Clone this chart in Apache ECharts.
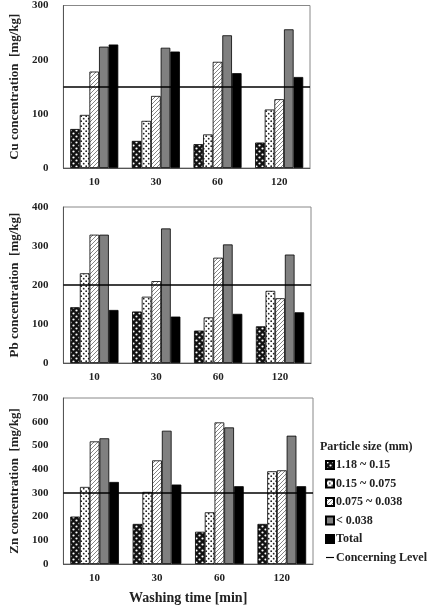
<!DOCTYPE html>
<html>
<head>
<meta charset="utf-8">
<script src="https://cdn.jsdelivr.net/npm/echarts@6/dist/echarts.min.js"></script>
<style>
    html, body { margin: 0; padding: 0; background: #fff; }
    #main { width: 430px; height: 606px; }
</style>
</head>
<body>
<div id="main"></div>
<script>
    // washing time categories (min)
    const categories = ['10', '30', '60', '120'];
    const sizeNames = ['1.18 ~ 0.15', '0.15 ~ 0.075', '0.075 ~ 0.038', '< 0.038', 'Total'];

    // Cu [mg/kg]
    const cu_118_015 = [72, 50, 44, 47];
    const cu_015_0075 = [98, 87, 62, 108];
    const cu_0075_0038 = [178, 133, 196, 127];
    const cu_lt0038 = [224, 222, 245, 256];
    const cu_total = [228, 215, 175, 168];
    const cuLevel = 150;

    // Pb [mg/kg]
    const pb_118_015 = [143, 132, 83, 94];
    const pb_015_0075 = [230, 170, 117, 185];
    const pb_0075_0038 = [329, 210, 270, 166];
    const pb_lt0038 = [329, 345, 304, 278];
    const pb_total = [136, 119, 126, 130];
    const pbLevel = 200;

    // Zn [mg/kg]
    const zn_118_015 = [200, 169, 136, 169];
    const zn_015_0075 = [325, 304, 218, 391];
    const zn_0075_0038 = [517, 437, 597, 395];
    const zn_lt0038 = [530, 562, 576, 541];
    const zn_total = [346, 335, 328, 328];
    const znLevel = 300;

    // y axis max values
    const yMax = [300, 400, 700];

    // fill patterns for the size fractions
    function makePattern(kind) {
        const c = document.createElement('canvas');
        const ctx = c.getContext('2d');
        if (kind === 'cross') {
            c.width = 6; c.height = 6;
            ctx.fillStyle = '#111';
            ctx.fillRect(0, 0, 6, 6);
            ctx.fillStyle = '#fff';
            ctx.beginPath(); ctx.arc(1.5, 1.5, 1.1, 0, Math.PI * 2); ctx.fill();
            ctx.beginPath(); ctx.arc(4.5, 4.5, 1.1, 0, Math.PI * 2); ctx.fill();
        } else if (kind === 'dots') {
            c.width = 5; c.height = 5;
            ctx.fillStyle = '#fff';
            ctx.fillRect(0, 0, 5, 5);
            ctx.fillStyle = '#222';
            ctx.beginPath(); ctx.arc(1.2, 1.2, 0.9, 0, Math.PI * 2); ctx.fill();
            ctx.beginPath(); ctx.arc(3.7, 3.7, 0.9, 0, Math.PI * 2); ctx.fill();
        } else {
            c.width = 4; c.height = 4;
            ctx.fillStyle = '#fff';
            ctx.fillRect(0, 0, 4, 4);
            ctx.strokeStyle = '#666';
            ctx.lineWidth = 0.8;
            ctx.beginPath(); ctx.moveTo(-1, 5); ctx.lineTo(5, -1); ctx.stroke();
            ctx.beginPath(); ctx.moveTo(-1, 1); ctx.lineTo(1, -1); ctx.stroke();
            ctx.beginPath(); ctx.moveTo(3, 5); ctx.lineTo(5, 3); ctx.stroke();
        }
        return {image: c, repeat: 'repeat'};
    }

    const fills = [makePattern('cross'), makePattern('dots'), makePattern('hatch'), '#808080', '#000'];
    const font = '"Liberation Serif", "Times New Roman", serif';

    const grids = [
        {left: 53, top: 3, width: 257, height: 165},
        {left: 53, top: 207, width: 258, height: 156},
        {left: 57, top: 398, width: 256, height: 167}
    ];
    const yNames = ['Cu concentration  [mg/kg]', 'Pb concentration  [mg/kg]', 'Zn concentration  [mg/kg]'];
    const metalData = [
        [cu_118_015, cu_015_0075, cu_0075_0038, cu_lt0038, cu_total],
        [pb_118_015, pb_015_0075, pb_0075_0038, pb_lt0038, pb_total],
        [zn_118_015, zn_015_0075, zn_0075_0038, zn_lt0038, zn_total]
    ];
    const levels = [cuLevel, pbLevel, znLevel];

    let xAxes = [], yAxes = [], series = [];
    grids.forEach(function (g, i) {
        g.show = true;
        g.borderColor = '#888';
        g.borderWidth = 1;
        xAxes.push({
            type: 'category', gridIndex: i, data: categories,
            axisLine: {lineStyle: {color: '#555'}},
            axisTick: {show: false},
            axisLabel: {color: '#222', fontFamily: font, fontWeight: 'bold', fontSize: 11, margin: 9},
            name: i === 2 ? 'Washing time [min]' : '',
            nameLocation: 'middle', nameGap: 27,
            nameTextStyle: {color: '#222', fontFamily: font, fontWeight: 'bold', fontSize: 14}
        });
        yAxes.push({
            type: 'value', gridIndex: i, min: 0, max: yMax[i], interval: 100,
            axisLine: {show: true, lineStyle: {color: '#555'}},
            axisTick: {show: false},
            splitLine: {show: false},
            axisLabel: {color: '#222', fontFamily: font, fontWeight: 'bold', fontSize: 11, margin: 15},
            name: yNames[i], nameLocation: 'middle', nameGap: 38,
            nameTextStyle: {color: '#222', fontFamily: font, fontWeight: 'bold', fontSize: 13}
        });
        metalData[i].forEach(function (vals, k) {
            series.push({
                name: sizeNames[k], type: 'bar', xAxisIndex: i, yAxisIndex: i,
                data: vals, barGap: '0%', barCategoryGap: '22%',
                itemStyle: {color: fills[k], borderColor: '#000', borderWidth: 0.8}
            });
        });
        series.push({
            name: 'Concerning Level', type: 'line', xAxisIndex: i, yAxisIndex: i,
            data: [], symbol: 'none', lineStyle: {color: '#000', width: 2},
            itemStyle: {color: '#000'},
            markLine: {
                silent: true, symbol: 'none', label: {show: false},
                lineStyle: {color: '#000', width: 1.6, type: 'solid'},
                data: [{yAxis: levels[i]}]
            }
        });
    });

    const legendData = sizeNames.map(function (n) { return {name: n, icon: 'rect'}; });
    legendData.push({name: 'Concerning Level', icon: 'path://M0,0H14V2H0Z'});

    const myChart = echarts.init(document.getElementById('main'));
    myChart.setOption({
        animation: false,
        title: {
            text: 'Particle size (mm)', left: 315, top: 436,
            textStyle: {color: '#222', fontFamily: font, fontWeight: 'bold', fontSize: 12}
        },
        legend: {
            data: legendData,
            orient: 'vertical', left: 320, top: 454,
            itemWidth: 8, itemHeight: 8, itemGap: 6.5,
            textStyle: {color: '#222', fontFamily: font, fontWeight: 'bold', fontSize: 12, padding: [0, 0, 0, -3]}
        },
        grid: grids,
        xAxis: xAxes,
        yAxis: yAxes,
        series: series
    });
</script>
</body>
</html>
